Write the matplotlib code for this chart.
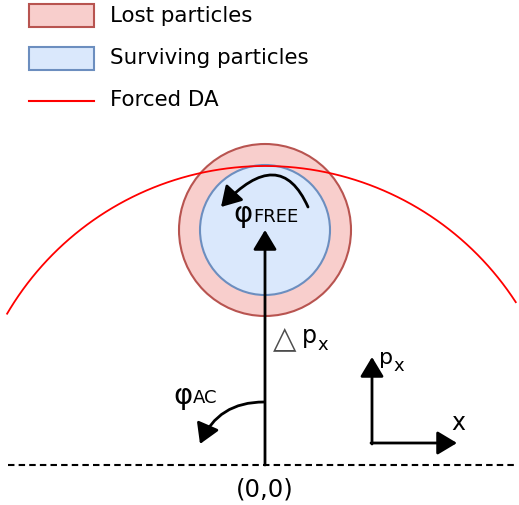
import numpy as np
import matplotlib.pyplot as plt
from matplotlib.patches import Circle, Rectangle, FancyArrowPatch

# --------------------------
# DIAGRAM PARAMETERS (pixel space)
# --------------------------
origin = (265, 466)
bunch_center = (265, 231)
lost_radius = 86
surviving_radius = 65
da_radius = 299
da_angles = np.linspace(np.radians(33), np.radians(149.6), 400)

legend_labels = ["Lost particles", "Surviving particles", "Forced DA"]
lost_face, lost_edge = "#f8cecc", "#b85450"
surv_face, surv_edge = "#dae8fc", "#6c8ebf"
da_color = "red"

fig = plt.figure(figsize=(5.19, 5.06), dpi=100)
ax = fig.add_axes([0, 0, 1, 1])
ax.set_xlim(0, 519)
ax.set_ylim(506, 0)
ax.set_aspect("equal")
ax.axis("off")

# Particle circles
ax.add_patch(Circle(bunch_center, lost_radius, facecolor=lost_face,
                    edgecolor=lost_edge, lw=1.5, zorder=1))
ax.add_patch(Circle(bunch_center, surviving_radius, facecolor=surv_face,
                    edgecolor=surv_edge, lw=1.5, zorder=2))

# Forced DA arc around origin
ax.plot(origin[0] + da_radius * np.cos(da_angles),
        origin[1] - da_radius * np.sin(da_angles),
        color=da_color, lw=1.3, zorder=3)

# Dashed reference line
ax.plot([8, 516], [origin[1], origin[1]], color="black", lw=1.5,
        ls=(0, (3.1, 2)), zorder=3)

head = "-|>,head_length=0.5,head_width=0.3"
arrow_kw = dict(arrowstyle=head, mutation_scale=24, color="black", lw=2,
                shrinkA=0, shrinkB=0, zorder=5)

# Delta p_x kick arrow
ax.add_patch(FancyArrowPatch(origin, (265, 231), **arrow_kw))

# phi_FREE rotation
ax.add_patch(FancyArrowPatch((308, 208), (221, 208),
                             connectionstyle="angle3,angleA=114,angleB=47",
                             **arrow_kw))
# phi_AC rotation
ax.add_patch(FancyArrowPatch((264, 403), (200, 445),
                             connectionstyle="arc3,rad=0.33", **arrow_kw))

# Small reference frame
ax.add_patch(FancyArrowPatch((372, 445), (372, 358), **arrow_kw))
ax.add_patch(FancyArrowPatch((371, 444), (457, 444), **arrow_kw))

# Labels
ax.text(253, 214, "φ", fontsize=21, ha="right", va="center", zorder=6)
ax.text(253, 217, "FREE", fontsize=13, ha="left", va="center", zorder=6)
ax.text(193, 396, "φ", fontsize=21, ha="right", va="center")
ax.text(193, 398, "AC", fontsize=13, ha="left", va="center")
ax.text(273, 339, "△", fontsize=22, ha="left", va="center", color="#4d4d4d",
        fontweight="bold")
ax.text(302, 336, "p", fontsize=17, ha="left", va="center")
ax.text(317, 345, "x", fontsize=13, ha="left", va="center")
ax.text(379, 358, "p", fontsize=16, ha="left", va="center")
ax.text(393, 366, "x", fontsize=13, ha="left", va="center")
ax.text(451, 423, "x", fontsize=17, ha="left", va="center")
ax.text(265, 490, "(0,0)", fontsize=17.5, ha="center", va="center")

# Legend
ax.add_patch(Rectangle((29, 5), 65, 23, facecolor=lost_face,
                       edgecolor=lost_edge, lw=1.5))
ax.add_patch(Rectangle((29, 48), 65, 23, facecolor=surv_face,
                       edgecolor=surv_edge, lw=1.5))
ax.plot([29, 94], [102, 102], color=da_color, lw=1.5)
for label, y in zip(legend_labels, [16, 58, 100]):
    ax.text(110, y, label, fontsize=15.4, ha="left", va="center")

fig.savefig("out.png", dpi=100)
